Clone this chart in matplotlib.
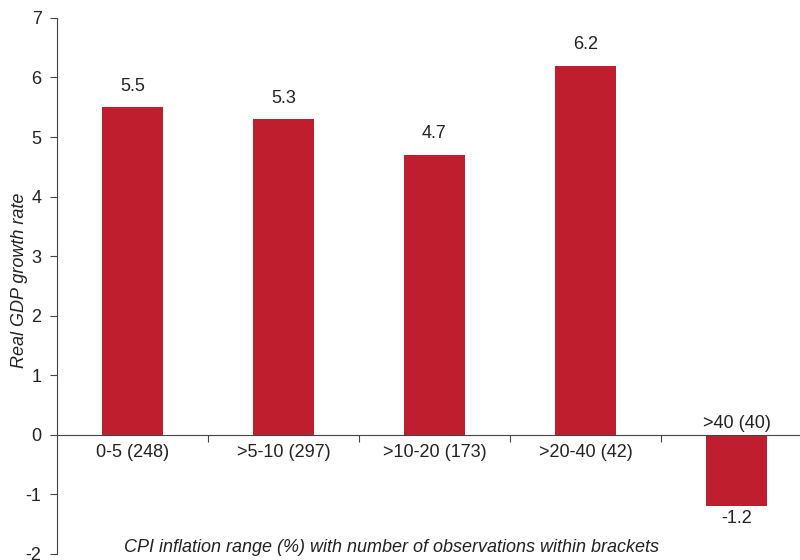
import matplotlib
matplotlib.use("Agg")
import matplotlib.pyplot as plt
import numpy as np

plt.rcParams['font.family'] = ['Liberation Sans', 'DejaVu Sans']
plt.rcParams['axes.unicode_minus'] = False

categories = ['0-5 (248)', '>5-10 (297)', '>10-20 (173)', '>20-40 (42)', '>40 (40)']
growth = [5.5, 5.3, 4.7, 6.2, -1.2]
value_labels = ['5.5', '5.3', '4.7', '6.2', '-1.2']

bar_color = '#BE1E2D'
text_color = '#222222'
fs = 13

fig = plt.figure(figsize=(8, 5.6), dpi=100)
ax = fig.add_axes([0.071, 0.011, 0.929, 0.957])

x = np.arange(len(categories))
ax.bar(x, growth, width=0.4, color=bar_color, zorder=2)

ax.set_xlim(-0.5, 4.42)
ax.set_ylim(-2, 7)
ax.set_yticks(range(-2, 8))

ax.spines['top'].set_visible(False)
ax.spines['right'].set_visible(False)
ax.spines['bottom'].set_position(('data', 0))
ax.spines['left'].set_color('#444444')
ax.spines['bottom'].set_color('#444444')

ax.set_xticks(x[:-1] + 0.5)
ax.set_xticklabels([])
ax.tick_params(axis='x', direction='out', length=5, color='#444444')
ax.tick_params(axis='y', direction='out', length=5, color='#444444',
               labelsize=fs, labelcolor=text_color, pad=6)

for xi, v, lab, cat in zip(x, growth, value_labels, categories):
    if v >= 0:
        ax.annotate(lab, (xi, v), xytext=(0, 9), textcoords='offset points',
                    ha='center', va='bottom', fontsize=fs, color=text_color)
        ax.annotate(cat, (xi, 0), xytext=(0, -7), textcoords='offset points',
                    ha='center', va='top', fontsize=fs, color=text_color)
    else:
        ax.annotate(lab, (xi, v), xytext=(0, -3), textcoords='offset points',
                    ha='center', va='top', fontsize=fs, color=text_color)
        ax.annotate(cat, (xi, 0), xytext=(0, 2), textcoords='offset points',
                    ha='center', va='bottom', fontsize=fs, color=text_color)

fig.text(0.024, 0.5, 'Real GDP growth rate', rotation=90, ha='center', va='center',
         fontsize=fs, style='italic', color=text_color)
fig.text(0.489, 0.022, 'CPI inflation range (%) with number of observations within brackets',
         ha='center', va='center', fontsize=fs, style='italic', color=text_color)

fig.savefig('out.png', dpi=100)
